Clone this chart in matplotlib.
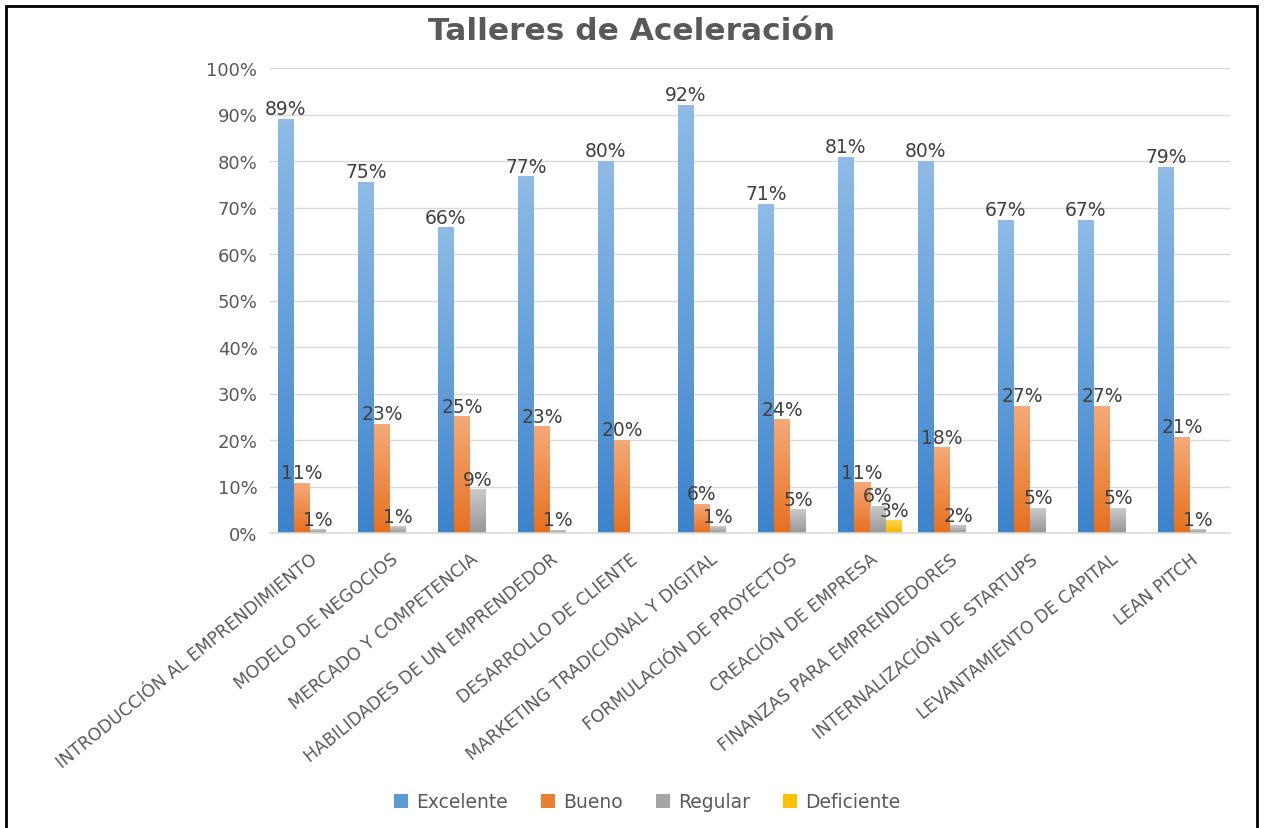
import matplotlib
matplotlib.use("Agg")
import matplotlib.pyplot as plt
import numpy as np
from matplotlib.colors import LinearSegmentedColormap
from matplotlib.patches import Rectangle, Patch
from matplotlib.ticker import PercentFormatter, MultipleLocator

categories = [
    "INTRODUCCIÓN AL EMPRENDIMIENTO",
    "MODELO DE NEGOCIOS",
    "MERCADO Y COMPETENCIA",
    "HABILIDADES DE UN EMPRENDEDOR",
    "DESARROLLO DE CLIENTE",
    "MARKETING TRADICIONAL Y DIGITAL",
    "FORMULACIÓN DE PROYECTOS",
    "CREACIÓN DE EMPRESA",
    "FINANZAS PARA EMPRENDEDORES",
    "INTERNALIZACIÓN DE STARTUPS",
    "LEVANTAMIENTO DE CAPITAL",
    "LEAN PITCH",
]
series_names = ["Excelente", "Bueno", "Regular", "Deficiente"]
excelente = [0.89, 0.754, 0.657, 0.766, 0.80, 0.92, 0.707, 0.808, 0.80, 0.673, 0.673, 0.787]
bueno = [0.107, 0.234, 0.25, 0.228, 0.20, 0.062, 0.244, 0.108, 0.184, 0.273, 0.273, 0.206]
regular = [0.007, 0.013, 0.093, 0.006, 0.0, 0.013, 0.05, 0.058, 0.016, 0.053, 0.053, 0.007]
deficiente = [0.0, 0.0, 0.0, 0.0, 0.0, 0.0, 0.0, 0.026, 0.0, 0.0, 0.0, 0.0]
title = "Talleres de Aceleración"

series = [excelente, bueno, regular, deficiente]
grad_colors = [("#8FBBE6", "#3B83CC"), ("#F4AA78", "#E6701F"),
               ("#CACACA", "#979797"), ("#FFD34D", "#F5B800")]
solid_colors = ["#5B9BD5", "#ED7D31", "#A5A5A5", "#FFC000"]

plt.rcParams['font.family'] = ['DejaVu Sans']

fig = plt.figure(figsize=(12.64, 8.29), dpi=100)
ax = fig.add_axes([270/1264, 1-534/829, 960/1264, (534-69)/829])

x = np.arange(len(categories))
w = 0.2
grad = np.linspace(1, 0, 256).reshape(-1, 1)
for i, (vals, (ctop, cbot)) in enumerate(zip(series, grad_colors)):
    offs = (i - 1.5) * w
    cmap = LinearSegmentedColormap.from_list(f"g{i}", [cbot, ctop])
    bars = ax.bar(x + offs, vals, width=w, color="none", edgecolor="none", zorder=2)
    for b, v in zip(bars, vals):
        if v <= 0:
            continue
        bx, bw, bh = b.get_x(), b.get_width(), b.get_height()
        ax.imshow(grad, extent=[bx, bx + bw, 0, bh], aspect="auto", cmap=cmap,
                  origin="upper", zorder=2, interpolation="bilinear")
        ax.text(bx + bw / 2, bh + 0.002, f"{round(v*100):.0f}%", ha="center", va="bottom",
                fontsize=13.5, color="#404040", zorder=3)

ax.set_xlim(-0.5, len(categories) - 0.5)
ax.set_ylim(0, 1.0)
ax.set_aspect("auto")
ax.yaxis.set_major_locator(MultipleLocator(0.1))
ax.yaxis.set_major_formatter(PercentFormatter(1.0, decimals=0))
ax.grid(axis="y", color="#D9D9D9", linewidth=1, zorder=0)
ax.set_axisbelow(True)
for s in ["left", "right", "top"]:
    ax.spines[s].set_visible(False)
ax.spines["bottom"].set_color("#D9D9D9")
ax.spines["bottom"].set_linewidth(1.2)
ax.tick_params(axis="y", length=0, labelsize=13, labelcolor="#595959", pad=9)
ax.tick_params(axis="x", length=0, labelsize=12.5, labelcolor="#595959", pad=12)
ax.set_xticks(x)
ax.set_xticklabels(categories, rotation=39, ha="right", rotation_mode="anchor")

fig.text(0.5, 1 - 31/829, title, ha="center", va="center", fontsize=22.5,
         fontweight="bold", color="#595959")

handles = [Patch(facecolor=c, edgecolor="none") for c in solid_colors]
fig.legend(handles, series_names, loc="center", bbox_to_anchor=(0.512, 1 - 803/829),
           ncol=4, frameon=False, fontsize=13.5, labelcolor="#595959",
           handlelength=0.75, handleheight=0.75, handletextpad=0.4, columnspacing=1.8)

fig.patches.append(Rectangle((6/1264, -0.01), (1257-6)/1264, 1.01 - 7/829,
                             transform=fig.transFigure, fill=False,
                             edgecolor="black", linewidth=2))

fig.savefig("out.png", dpi=100)
